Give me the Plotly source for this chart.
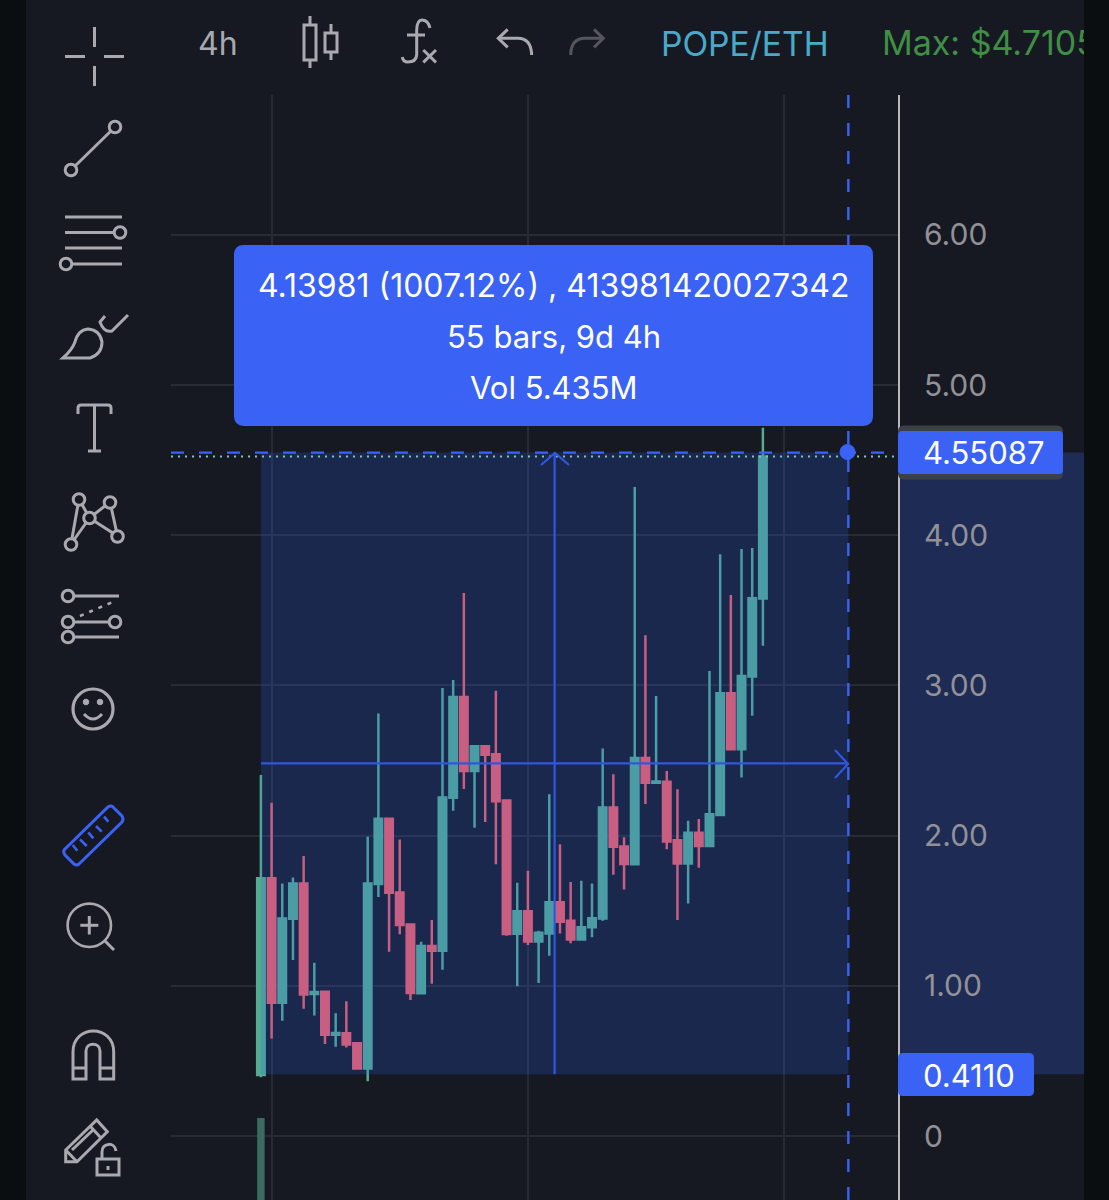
import re
import plotly.graph_objects as go

# ---------- data ----------
opens = [0.406,1.716,0.888,1.447,1.682,0.945,0.961,0.675,0.684,0.617,0.450,1.678,2.113,1.622,1.409,0.950,1.265,1.234,2.253,2.923,2.430,2.595,2.542,2.235,1.347,1.496,1.296,1.348,1.557,1.434,1.308,1.391,1.448,2.188,1.928,1.809,2.518,2.352,2.359,1.969,1.814,2.019,1.931,2.138,2.949,2.575,3.060,3.579]
highs = [2.404,2.220,1.682,1.722,1.864,1.154,0.961,0.817,0.897,0.617,1.993,2.814,2.113,1.975,1.409,1.294,1.438,2.983,3.036,3.616,2.595,2.595,2.965,2.235,1.687,1.767,1.367,2.276,1.943,1.691,1.700,1.681,2.580,2.409,1.990,4.321,3.334,2.930,2.430,2.309,2.100,2.111,3.096,3.874,3.603,3.909,3.916,4.716]
lows = [0.391,0.650,0.768,1.172,0.848,0.803,0.612,0.595,0.590,0.446,0.364,1.591,1.227,1.343,0.906,0.950,1.014,1.107,2.166,2.311,2.053,2.091,1.809,1.334,0.997,1.272,1.019,1.201,1.348,1.284,1.308,1.324,1.434,1.740,1.641,1.809,2.211,2.347,1.909,1.438,1.548,1.786,1.931,2.138,2.575,2.387,2.799,3.265]
closes = [1.716,0.888,1.449,1.682,0.943,0.959,0.675,0.686,0.610,0.450,1.682,2.113,1.620,1.405,0.952,1.265,1.234,2.255,2.923,2.430,2.595,2.539,2.229,1.345,1.496,1.296,1.353,1.557,1.427,1.308,1.391,1.450,2.188,1.926,1.812,2.518,2.352,2.361,1.962,1.814,2.019,1.931,2.142,2.949,2.575,3.063,3.581,4.525]
volume_x = [0]
volume_height = [0.546]
volume_base = [-0.426]
price_ticks = [0, 1, 2, 3, 4, 5, 6]
price_tick_labels = ["0", "1.00", "2.00", "3.00", "4.00", "5.00", "6.00"]
time_grid = [1, 25, 49]
measure_bars = 55
measure_low = 0.4110
measure_high = 4.55087
tooltip_lines = ["4.13981 (1007.12%) , 413981420027342", "55 bars, 9d 4h", "Vol 5.435M"]
header_max = "Max: $4.7105"

# ---------- styling ----------
W, H = 1109, 1200
BG = "#171922"
STRIP = "#0b0e11"
ICON = "#a9a9af"
BLUE = "#3a63f6"
LINEBLUE = "#2f57e0"
FONT = "Inter, Roboto, sans-serif"
NONE = "rgba(0,0,0,0)"

def px(x): return x / W
def py(y): return 1 - y / H

def path(d):
    parts = re.findall(r"[MLQCZ]|-?[\d.]+", d)
    out, isx = [], True
    for t in parts:
        if t.isalpha():
            out.append(t); isx = True
        else:
            v = float(t)
            out.append(f"{px(v):.5f}" if isx else f"{py(v):.5f}")
            isx = not isx
    s, i = "", 0
    for t in out:
        if t.isalpha():
            s += t; i = 0
        else:
            s += ("," if i % 2 else " ") + t if i else t
            i += 1
    return s

shapes = []
def P(d, color=ICON, w=3, fill=None, layer="above"):
    shapes.append(dict(type="path", xref="paper", yref="paper", path=path(d),
                       line=dict(color=color, width=w), fillcolor=fill, layer=layer))
def C(cx, cy, r, color=ICON, w=3, fill=BG):
    shapes.append(dict(type="circle", xref="paper", yref="paper",
                       x0=px(cx-r), x1=px(cx+r), y0=py(cy+r), y1=py(cy-r),
                       line=dict(color=color, width=w), fillcolor=fill, layer="above"))
def R(x0, y0, x1, y1, r, fill, layer="above"):
    d = (f"M {x0+r} {y0} L {x1-r} {y0} Q {x1} {y0} {x1} {y0+r} L {x1} {y1-r} Q {x1} {y1} {x1-r} {y1} "
         f"L {x0+r} {y1} Q {x0} {y1} {x0} {y1-r} L {x0} {y0+r} Q {x0} {y0} {x0+r} {y0} Z")
    shapes.append(dict(type="path", xref="paper", yref="paper", path=path(d),
                       line=dict(width=0), fillcolor=fill, layer=layer))

# side strips
shapes.append(dict(type="rect", xref="paper", yref="paper", x0=0, x1=px(26), y0=0, y1=1,
                   fillcolor=STRIP, line=dict(width=0), layer="below"))
shapes.append(dict(type="rect", xref="paper", yref="paper", x0=px(1084), x1=1, y0=0, y1=1,
                   fillcolor=STRIP, line=dict(width=0), layer="below"))
# price-scale highlight
shapes.append(dict(type="rect", xref="paper", yref="y", x0=px(899), x1=px(1084),
                   y0=measure_low, y1=measure_high, fillcolor="#1e2b55",
                   line=dict(width=0), layer="below"))
# measure box
shapes.append(dict(type="rect", xref="x", yref="y", x0=0, x1=measure_bars,
                   y0=measure_low, y1=measure_high, fillcolor="rgba(41,98,255,0.2)",
                   line=dict(width=0), layer="above"))
# last price dotted
shapes.append(dict(type="line", xref="paper", yref="y", x0=px(171), x1=px(898),
                   y0=closes[-1], y1=closes[-1],
                   line=dict(color="#82c4b2", width=2, dash="2px,5px"), layer="above"))
# dashed crosshair lines
shapes.append(dict(type="line", xref="paper", yref="y", x0=px(171), x1=px(898),
                   y0=measure_high, y1=measure_high,
                   line=dict(color=BLUE, width=2.4, dash="13px,15px"), layer="above"))
shapes.append(dict(type="line", xref="x", yref="paper", x0=measure_bars, x1=measure_bars,
                   y0=0, y1=py(95),
                   line=dict(color=BLUE, width=2.4, dash="13px,15px"), layer="above"))
# measure arrows
midx = measure_bars / 2
midy = (measure_low + measure_high) / 2
shapes.append(dict(type="line", xref="x", yref="y", x0=midx, x1=midx, y0=measure_low, y1=measure_high,
                   line=dict(color=LINEBLUE, width=2.2), layer="above"))
shapes.append(dict(type="line", xref="x", yref="y", x0=0, x1=measure_bars, y0=midy, y1=midy,
                   line=dict(color=LINEBLUE, width=2.2), layer="above"))
P("M 541 465 L 555 453 L 569 465", LINEBLUE, 2.2)
P("M 835 750 L 848 764 L 835 778", LINEBLUE, 2.2)
C(847.5, 452, 7.5, BLUE, 1, BLUE)

# tooltip and price labels
R(234, 245, 873, 426, 10, BLUE)
R(898, 425.5, 1063, 479.5, 6, "#3e4048")
R(898, 431, 1063, 474, 4, BLUE)
R(898, 1053, 1034, 1096, 5, BLUE)

# left toolbar icons
for d in ["M 94.5 27 L 94.5 47", "M 94.5 66 L 94.5 86", "M 65 56.5 L 85 56.5", "M 104 56.5 L 124 56.5"]:
    P(d, w=3)
P("M 71 170 L 115 127"); C(71, 170, 5.8); C(115, 127, 5.8)
for d in ["M 65 217 L 122 217", "M 65 232.5 L 115 232.5", "M 65 248 L 122 248", "M 72 264 L 122 264"]:
    P(d)
C(120, 232.5, 5.8); C(66, 264, 5.8)
P("M 63 358 L 90 358 Q 102 354 102 342 Q 100 330 88 329 Q 78 330 75 342 Q 72 350 63 358 Z")
P("M 105 316 L 100 322 Q 104 333 112 331 L 128 315")
P("M 78 414 L 78 408 Q 78 405 81 405 L 108 405 Q 111 405 111 408 L 111 414")
P("M 94.5 405 L 94.5 451"); P("M 88 451 L 101 451")
for d in ["M 79 499 L 71 544", "M 71 544 L 89.5 518", "M 79 499 L 89.5 518", "M 89.5 518 L 110 502",
          "M 110 502 L 117.5 536", "M 89.5 518 L 117.5 536"]:
    P(d)
for c in [(79, 499.5), (110, 502.5), (89.5, 518), (117.5, 536.5), (71, 544.5)]:
    C(c[0], c[1], 5.8)
P("M 68 596 L 119 596"); C(68, 596, 5.8)
shapes.append(dict(type="line", xref="paper", yref="paper", x0=px(80), y0=py(616), x1=px(115), y1=py(601),
                   line=dict(color=ICON, width=2.6, dash="4px,6px"), layer="above"))
P("M 68 622 L 115 622"); C(68, 622, 5.8); C(115, 622, 5.8)
P("M 68 637 L 119 637"); C(68, 637, 5.8)
C(93, 709, 20, w=3.2)
C(86, 702, 2.8, fill=ICON, w=1); C(100, 702, 2.8, fill=ICON, w=1)
P("M 84 714 Q 93 724 102 714", w=3)
P("M 66 848 L 108 807 Q 110.7 805 113 807 L 122 816 Q 124 819 122 822 L 79 864 Q 76.7 866 74 864 L 65 855 Q 62 851 66 848 Z", BLUE, 3)
for d in ["M 72.7 845 L 77.3 850.7", "M 80 839.3 L 86.7 846", "M 88.3 832.3 L 93.3 838.3",
          "M 96 826 L 101.7 831.7", "M 104 816.7 L 108.3 821.7"]:
    P(d, BLUE, 2.6)
C(89.3, 925.3, 21.7, w=2.6)
P("M 89.3 916 L 89.3 934.5"); P("M 80.3 925.3 L 98.3 925.3"); P("M 105 941 L 114 950")
P("M 73 1079 L 73 1052 C 73 1024 113.7 1024 113.7 1052 L 113.7 1079 L 100 1079 L 100 1051 C 100 1042 86 1042 86 1051 L 86 1079 Z")
P("M 73 1068 L 86 1068"); P("M 100 1068 L 113.7 1068")
P("M 65.7 1150 L 96.7 1120 L 107.3 1131.7 L 77 1161.7 L 65.7 1161.7 Z")
P("M 65.7 1150 L 77 1161.7"); P("M 90 1126 L 101 1138"); P("M 72 1150 L 93 1130")
P("M 97 1159 L 119 1159 L 119 1175 L 97 1175 Z")
P("M 102 1159 L 102 1152 C 102 1142 115 1142 116 1151")
P("M 108 1166 L 108 1170", w=3)

# top toolbar icons
P("M 304 25 L 316 25 L 316 60 L 304 60 Z"); P("M 310 16 L 310 25"); P("M 310 60 L 310 68")
P("M 325 33 L 337 33 L 337 52 L 325 52 Z"); P("M 331 24 L 331 33"); P("M 331 52 L 331 60")
P("M 430 28 Q 428 20 422 20 Q 417 20 416.7 30 L 416.7 55 Q 416 62 408 62 Q 403 62 402.3 57")
P("M 407 35 L 425 35"); P("M 423.3 50 L 436 62.3"); P("M 436 50 L 423.3 62.3")
P("M 507.7 29.3 L 498.3 38.3 L 507.7 47.3"); P("M 498.3 38.3 L 518 38.3 Q 531 38.3 531.7 55")
P("M 594 29.3 L 603.3 38.3 L 594 47.3", "#55565c"); P("M 603.3 38.3 L 585 38.3 Q 571 38.3 570.7 55", "#55565c")

annotations = []
def T(x, y, text, color="#ffffff", size=29, anchor="left"):
    annotations.append(dict(xref="paper", yref="paper", x=px(x), y=py(y), text=text, showarrow=False,
                            xanchor=anchor, yanchor="middle", align=anchor, borderpad=0,
                            font=dict(family=FONT, size=size, color=color)))
T(553.5, 286, tooltip_lines[0], size=32, anchor="center")
T(553.5, 337, tooltip_lines[1], size=31, anchor="center")
T(553.5, 388, tooltip_lines[2], size=31, anchor="center")
T(922, 453, f"{measure_high:.5f}", size=31)
T(922, 1075, f"{measure_low:.4f}", size=31)
T(197, 43, "4h", "#a9a9af", 32)
T(660, 43, "POPE/ETH", "#4aa9c8", 33.6)

fig = go.Figure()
fig.add_trace(go.Bar(x=volume_x, y=volume_height, base=volume_base, width=0.7,
                     marker=dict(color="#3a6b62", line=dict(width=0)), hoverinfo="skip"))
fig.add_trace(go.Candlestick(
    x=list(range(len(opens))), open=opens, high=highs, low=lows, close=closes,
    increasing=dict(line=dict(color="#53ac8f", width=2.5), fillcolor="#53ac8f"),
    decreasing=dict(line=dict(color="#f05e63", width=2.5), fillcolor="#f05e63"),
    whiskerwidth=0, hoverinfo="skip"))
fig.add_trace(go.Scatter(x=[882], y=[46], mode="text", text=[header_max], textposition="middle right",
                         textfont=dict(family=FONT, size=34, color="#3f8f45"), cliponaxis=True,
                         xaxis="x2", yaxis="y2", hoverinfo="skip"))

fig.update_layout(
    width=W, height=H, autosize=False, margin=dict(l=0, r=0, t=0, b=0),
    paper_bgcolor=BG, plot_bgcolor=NONE, showlegend=False, boxgap=0.3, boxgroupgap=0,
    shapes=shapes, annotations=annotations,
    xaxis=dict(domain=[px(171), px(898)], range=[-8.418, 59.65], rangeslider=dict(visible=False),
               tickvals=time_grid, showticklabels=False, ticks="", showgrid=True,
               gridcolor="#292b34", gridwidth=2, zeroline=False, showline=False, anchor="y"),
    yaxis=dict(domain=[0, py(95)], range=[-0.426, 6.932], side="right", anchor="x",
               tickvals=price_ticks, ticktext=price_tick_labels, ticks="", ticklabelstandoff=18,
               tickfont=dict(family=FONT, size=30, color="#919197"),
               showgrid=True, gridcolor="#292b34", gridwidth=2, zeroline=False,
               showline=True, linecolor="#b9b9bd", linewidth=2),
    xaxis2=dict(domain=[0, px(1084)], range=[0, 1084], visible=False, anchor="y2", fixedrange=True),
    yaxis2=dict(domain=[0, 1], range=[1200, 0], visible=False, anchor="x2", fixedrange=True),
)

fig.write_html("out.html", config=dict(displayModeBar=False),
               post_script="document.body.style.margin='0';document.body.style.background='" + BG + "';")
